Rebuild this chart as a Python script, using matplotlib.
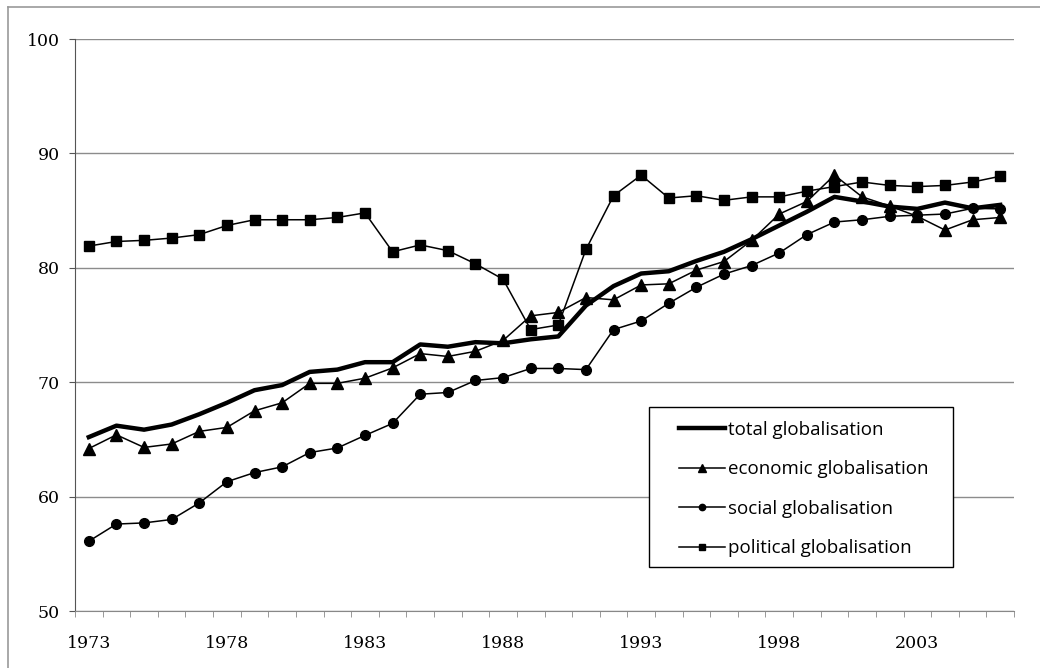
import matplotlib.pyplot as plt
from matplotlib.lines import Line2D
from matplotlib.patches import Rectangle

# 資料
years = list(range(1973, 2007))
total = [65.2, 66.2, 65.85, 66.3, 67.2, 68.2, 69.3, 69.75, 70.9, 71.1, 71.75, 71.75,
         73.3, 73.1, 73.5, 73.4, 73.75, 74.0, 76.7, 78.4, 79.5, 79.7, 80.6, 81.4,
         82.5, 83.7, 84.9, 86.2, 85.8, 85.35, 85.15, 85.7, 85.2, 85.5]
economic = [64.2, 65.4, 64.3, 64.6, 65.7, 66.05, 67.5, 68.2, 69.9, 69.9, 70.35, 71.25,
            72.5, 72.25, 72.7, 73.65, 75.8, 76.1, 77.4, 77.2, 78.5, 78.6, 79.8, 80.55,
            82.4, 84.7, 85.8, 88.1, 86.2, 85.4, 84.5, 83.3, 84.2, 84.4]
social = [56.1, 57.6, 57.7, 58.0, 59.45, 61.3, 62.1, 62.6, 63.85, 64.25, 65.35, 66.4,
          68.95, 69.1, 70.15, 70.4, 71.2, 71.2, 71.1, 74.6, 75.35, 76.9, 78.3, 79.45,
          80.2, 81.3, 82.9, 84.0, 84.2, 84.5, 84.6, 84.7, 85.2, 85.15]
political = [81.9, 82.3, 82.4, 82.6, 82.9, 83.7, 84.2, 84.2, 84.2, 84.4, 84.8, 81.4,
             82.0, 81.5, 80.35, 79.0, 74.6, 75.0, 81.6, 86.3, 88.1, 86.1, 86.3, 85.9,
             86.2, 86.2, 86.7, 87.1, 87.5, 87.2, 87.1, 87.2, 87.5, 88.0]

x = list(range(len(years)))
W, H = 1040, 668

fig = plt.figure(figsize=(10.4, 6.68), dpi=100)
ax = fig.add_axes([75 / W, 1 - 611 / H, (1014 - 75) / W, (611 - 39) / H])

# 外框（只看得到上和左）
fig.add_artist(Line2D([8 / W, 1], [1 - 7 / H, 1 - 7 / H], color='#999999', lw=1.2))
fig.add_artist(Line2D([8 / W, 8 / W], [0, 1 - 7 / H], color='#999999', lw=1.2))

ax.plot(x, total, color='black', lw=3.2, label='total globalisation', zorder=3)
ax.plot(x, economic, color='black', lw=1.1, marker='^', ms=8.5, label='economic globalisation', zorder=4)
ax.plot(x, social, color='black', lw=1.1, marker='o', ms=7, label='social globalisation', zorder=4)
ax.plot(x, political, color='black', lw=1.1, marker='s', ms=6.5, label='political globalisation', zorder=4)

ax.set_xlim(-0.5, len(years) - 0.5)
ax.set_ylim(50, 100)
ax.set_yticks(range(50, 101, 10))
ax.yaxis.grid(True, color='#8c8c8c', lw=1)
ax.set_axisbelow(True)

ax.set_xticks(x[::5])
ax.set_xticklabels([str(y) for y in years[::5]])
ax.set_xticks([i - 0.5 for i in range(len(years) + 1)], minor=True)
ax.tick_params(axis='x', which='major', length=0, pad=17)
ax.tick_params(axis='x', which='minor', length=4, color='#888888', direction='out')
ax.tick_params(axis='y', length=4, color='#555555', pad=7)

for lab in ax.get_xticklabels() + ax.get_yticklabels():
    lab.set_fontfamily('DejaVu Serif')
    lab.set_fontsize(12.5)

for s in ['top', 'right']:
    ax.spines[s].set_visible(False)
ax.spines['left'].set_color('#555555')
ax.spines['bottom'].set_color('#888888')

# 圖例框
box = Rectangle((649 / W, 1 - 567 / H), (953 - 649) / W, (567 - 407) / H,
                transform=fig.transFigure, facecolor='white',
                edgecolor='black', lw=1, zorder=4)
fig.add_artist(box)
handles, labels = ax.get_legend_handles_labels()
leg = fig.legend(handles, labels, loc='upper left', bbox_to_anchor=(679 / W, 1 - 421 / H),
                 frameon=False, prop={'family': 'Open Sans', 'size': 13.5}, markerscale=0.65,
                 handlelength=2.45, handletextpad=0.16, labelspacing=1.14,
                 borderpad=0, borderaxespad=0)
leg.set_zorder(6)

fig.savefig('out.png', dpi=100)
